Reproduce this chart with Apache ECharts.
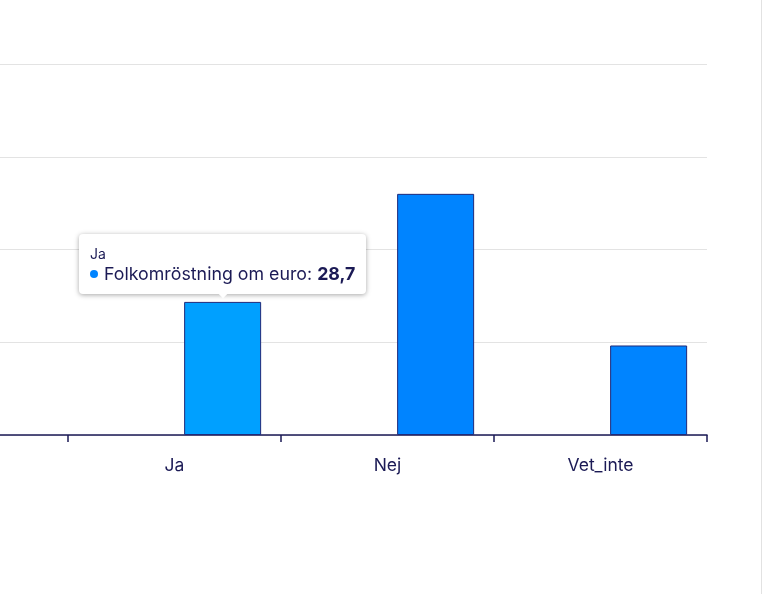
<!DOCTYPE html>
<html>
<head>
<meta charset="utf-8">
<script src="https://cdn.jsdelivr.net/npm/echarts@6/dist/echarts.min.js"></script>
<style>
  html, body { margin: 0; padding: 0; background: #fff; }
  #wrap { width: 761px; height: 594px; border-right: 1px solid #e2e2e2; overflow: hidden; position: relative; }
  /* the chart is wider than the view: its left part is cut off as in the picture */
  #main { width: 906px; height: 594px; position: absolute; left: -145px; top: 0; }
</style>
</head>
<body>
<div id="wrap"><div id="main"></div></div>
<script>
// the leftmost category is cut off in the picture
var categories = ['', 'Ja', 'Nej', 'Vet_inte'];
var seriesName = 'Folkomröstning om euro';
var values = [null, 28.7, 52.0, 19.3];
var emptyValues = [null, null, null, null];
var yTicks = [0, 20, 40, 60, 80];

var navy = '#1b1a55';

var myChart = echarts.init(document.getElementById('main'));

var option = {
    animation: false,
    textStyle: { fontFamily: 'Inter' },
    grid: { left: 0, right: 54, top: 64, bottom: 159, containLabel: false },
    tooltip: {
        trigger: 'item',
        triggerOn: 'none',
        alwaysShowContent: true,
        position: 'top',
        backgroundColor: '#fff',
        borderColor: '#fff',
        borderWidth: 0,
        padding: [10, 11, 9, 11],
        extraCssText: 'box-shadow: 0 1px 5px rgba(0,0,0,0.35); border-radius: 4px;',
        formatter: function (p) {
            var v = String(p.value).replace('.', ',');
            return '<div style="font-family:Inter;color:' + navy + ';font-size:14px;line-height:19px;">' + p.name + '</div>' +
                '<div style="font-family:Inter;color:' + navy + ';font-size:17.8px;line-height:22px;">' +
                '<span style="display:inline-block;width:8px;height:8px;border-radius:50%;background:#0084ff;margin-right:6px;vertical-align:2px;"></span>' +
                p.seriesName + ': <b>' + v + '</b></div>';
        }
    },
    xAxis: {
        type: 'category',
        data: categories,
        axisLine: { show: true, lineStyle: { color: navy, width: 1.5 } },
        axisTick: { show: true, length: 7, lineStyle: { color: navy, width: 1.5 } },
        axisLabel: { show: true, color: navy, fontSize: 17.5, margin: 22, fontFamily: 'Inter' }
    },
    yAxis: {
        type: 'value',
        min: yTicks[0],
        max: yTicks[yTicks.length - 1],
        interval: 20,
        axisLabel: { show: false },
        axisLine: { show: false },
        axisTick: { show: false },
        splitLine: { lineStyle: { color: '#e3e3e3', width: 1 } }
    },
    series: [
        {
            name: '',
            type: 'bar',
            data: emptyValues,
            barWidth: 77,
            barGap: '25%'
        },
        {
            name: seriesName,
            type: 'bar',
            data: values,
            barWidth: 77,
            barGap: '25%',
            itemStyle: { color: '#0084ff', borderColor: '#1f2a7a', borderWidth: 1 },
            emphasis: { itemStyle: { color: '#00a0ff', borderColor: '#1f2a7a', borderWidth: 1 } }
        }
    ]
};

myChart.setOption(option);
myChart.dispatchAction({ type: 'highlight', seriesIndex: 1, dataIndex: 1 });
myChart.dispatchAction({ type: 'showTip', seriesIndex: 1, dataIndex: 1 });
</script>
</body>
</html>
